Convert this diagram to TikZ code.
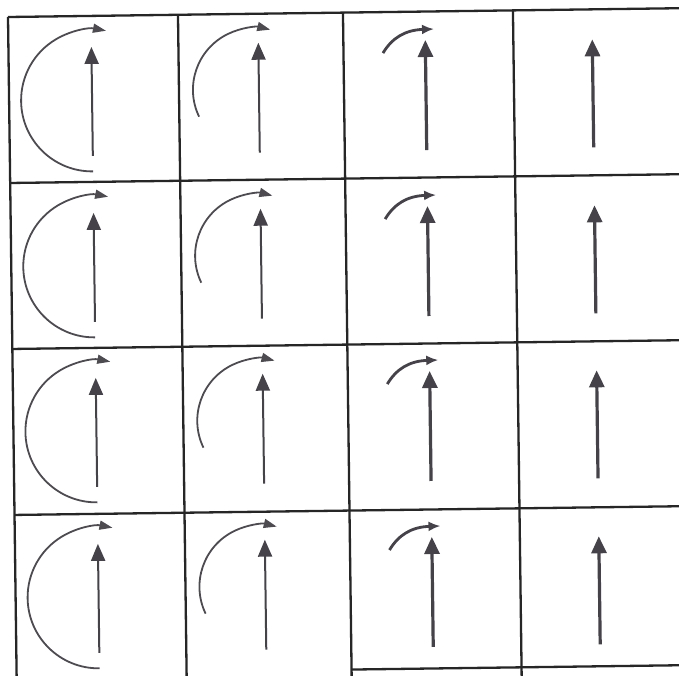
\documentclass[tikz,border=0pt]{standalone}
\usetikzlibrary{arrows.meta}
\definecolor{gridc}{HTML}{262626}
\definecolor{arrc}{HTML}{46424A}
\definecolor{arcc}{HTML}{4E4B50}
\tikzset{
  gridline/.style={draw=gridc, line width=2.3pt},
  thinarrow/.style={draw=arrc, line width=2pt, -{Triangle[length=17pt,width=14pt]}},
  thickarrow/.style={draw=arrc, line width=3.2pt, -{Triangle[length=17pt,width=15pt]}},
  arcarrow/.style={draw=arcc, line width=1.8pt, -{Triangle[length=13pt,width=9pt]}},
  hookarrow/.style={draw=arrc, line width=2.8pt, -{Latex[length=12pt,width=10pt]}}
}
\begin{document}
\begin{tikzpicture}[x=1pt,y=-1pt]
\useasboundingbox (0,0) rectangle (679,675);
\fill[white] (0,0) rectangle (679,675);
\clip (0,0) rectangle (679,675);
\begin{scope}[shift={(8,17)}, rotate=0.75]
  % grid
  \foreach \gy in {0,166,332,498} {
    \draw[gridline] (0,\gy) -- (700,\gy);
  }
  \foreach \gx in {0,170,335,505} {
    \draw[gridline] (\gx,0) -- (\gx,700);
  }
  \draw[gridline] (335,657) -- (700,657);
  % cells
  \foreach \oy in {0,166,331,497} {
    \begin{scope}[shift={(0,\oy)}]
      % column 1
      \coordinate (a1s) at (83,140);
      \coordinate (a1e) at (83,31);
      \draw[thinarrow] (a1s) -- (a1e);
      \coordinate (c1s) at (83,155.5);
      \draw[arcarrow] (c1s) arc[start angle=270, end angle=78, radius=71pt];
      % column 2
      \coordinate (a2s) at (250,139);
      \coordinate (a2e) at (250,29);
      \draw[thinarrow] (a2s) -- (a2e);
      \coordinate (c2s) at (189.8,102.2);
      \draw[arcarrow] (c2s) arc[start angle=205, end angle=75, radius=62pt];
      % column 3
      \coordinate (a3s) at (417,138.5);
      \coordinate (a3e) at (417,28.5);
      \draw[thickarrow] (a3s) -- (a3e);
      \coordinate (c3s) at (374.5,41);
      \coordinate (c3e) at (425.8,17.6);
      \draw[hookarrow] (c3s) .. controls (383.7,26) and (396.8,18.2) .. (c3e);
      % column 4
      \coordinate (a4s) at (584,138);
      \coordinate (a4e) at (584,30);
      \draw[thickarrow] (a4s) -- (a4e);
    \end{scope}
  }
\end{scope}
\end{tikzpicture}
\end{document}
